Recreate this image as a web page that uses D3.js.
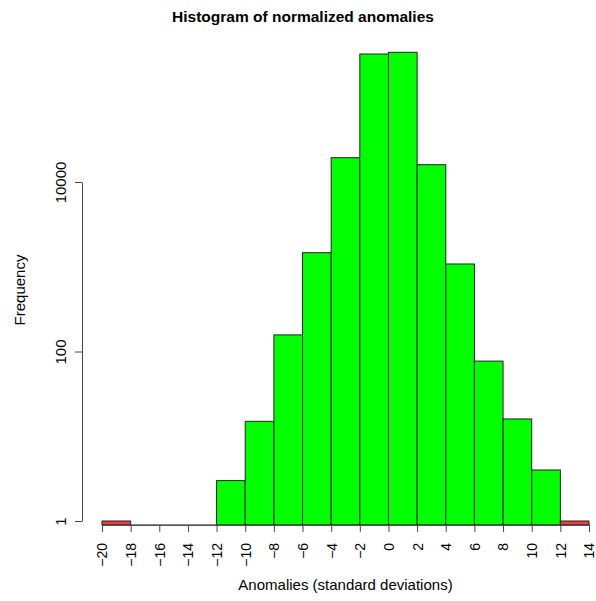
<!DOCTYPE html>
<html>
<head>
<meta charset="utf-8">
<script src="https://cdn.jsdelivr.net/npm/d3@7"></script>
<style>
  html, body { margin: 0; padding: 0; background: #fff; }
  svg { display: block; font-family: "Liberation Sans", Arial, sans-serif; }
</style>
</head>
<body>
<svg id="chart" width="596" height="601"></svg>
<script>
// ---- data ----
const binStarts = [-20, -18, -16, -14, -12, -10, -8, -6, -4, -2, 0, 2, 4, 6, 8, 10, 12];
const binWidth = 2;
const counts = [1, 0, 0, 0, 3, 15, 157, 1465, 19360, 323900, 339000, 16000, 1078, 77, 16, 4, 1];
const binType = ["outlier", "normal", "normal", "normal", "normal", "normal", "normal", "normal", "normal",
                 "normal", "normal", "normal", "normal", "normal", "normal", "normal", "outlier"];
const xTicks = [-20, -18, -16, -14, -12, -10, -8, -6, -4, -2, 0, 2, 4, 6, 8, 10, 12, 14];
const yTicks = [1, 100, 10000];
const title = "Histogram of normalized anomalies";
const xLabel = "Anomalies (standard deviations)";
const yLabel = "Frequency";

// ---- drawing ----
const svg = d3.select("#chart");
const x = d3.scaleLinear().domain([-20, 14]).range([102, 589]);
const y = d3.scaleLog().domain([1, 10000]).range([521, 182]);
const baseVal = 0.9;
const fillFor = t => t === "outlier" ? "#f03c3c" : "#00ff00";

const data = binStarts.map((b, i) => ({ x0: b, x1: b + binWidth, n: counts[i], type: binType[i] }));

svg.append("g").selectAll("rect")
  .data(data.filter(d => d.n > 0))
  .join("rect")
  .attr("x", d => x(d.x0))
  .attr("width", d => x(d.x1) - x(d.x0))
  .attr("y", d => y(d.n))
  .attr("height", d => y(baseVal) - y(d.n))
  .attr("fill", d => fillFor(d.type))
  .attr("stroke", "#222")
  .attr("stroke-width", 1);

// zero-count bins: flat outline at base
svg.append("g").selectAll("line")
  .data(data.filter(d => d.n === 0))
  .join("line")
  .attr("x1", d => x(d.x0)).attr("x2", d => x(d.x1))
  .attr("y1", y(baseVal)).attr("y2", y(baseVal))
  .attr("stroke", "#555");

// x axis
const xAxis = d3.axisBottom(x).tickValues(xTicks).tickSize(7).tickSizeOuter(0)
  .tickFormat(d => d < 0 ? "\u2212" + Math.abs(d) : String(d));
const gx = svg.append("g").attr("transform", `translate(0,${y(baseVal)})`).call(xAxis);
gx.select(".domain").attr("stroke", "#444");
gx.selectAll(".tick line").attr("stroke", "#444");
gx.selectAll(".tick text")
  .attr("font-size", 14)
  .attr("fill", "#000")
  .attr("transform", "rotate(-90)")
  .attr("text-anchor", "end")
  .attr("x", -18)
  .attr("y", 0)
  .attr("dy", "0.35em");

// y axis
const yAxis = d3.axisLeft(y).tickValues(yTicks).tickSize(7).tickSizeOuter(0)
  .tickFormat(d3.format("d"));
const gy = svg.append("g").attr("transform", "translate(82,0)").call(yAxis);
gy.select(".domain").attr("stroke", "#444");
gy.selectAll(".tick line").attr("stroke", "#444");
gy.selectAll(".tick text")
  .attr("font-size", 15)
  .attr("fill", "#000")
  .attr("transform", "rotate(-90)")
  .attr("text-anchor", "middle")
  .attr("x", 0)
  .attr("y", -16)
  .attr("dy", "0");

// titles
svg.append("text")
  .attr("x", 303).attr("y", 22)
  .attr("text-anchor", "middle")
  .attr("font-size", 15.5).attr("font-weight", "bold")
  .text(title);

svg.append("text")
  .attr("x", 345.5).attr("y", 590)
  .attr("text-anchor", "middle")
  .attr("font-size", 15)
  .text(xLabel);

svg.append("text")
  .attr("transform", "translate(25,290) rotate(-90)")
  .attr("text-anchor", "middle")
  .attr("font-size", 15)
  .text(yLabel);
</script>
</body>
</html>
